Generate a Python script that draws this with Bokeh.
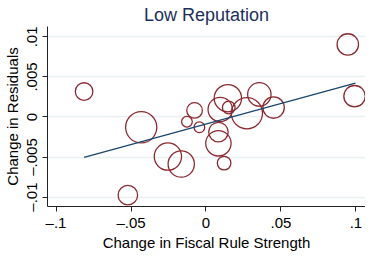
from bokeh.plotting import figure
from bokeh.models import FixedTicker, Range1d
from bokeh.embed import file_html
from bokeh.resources import INLINE
import numpy as np

# data
fiscal_change = [-0.0813, -0.0432, -0.0521, -0.0254, -0.0165, -0.0127, -0.0076, -0.0044,
                 0.0083, 0.0083, 0.0121, 0.0095, 0.0146, 0.0152, 0.0273, 0.0356,
                 0.0451, 0.0946, 0.0991]
resid_change = [0.00318, -0.00129, -0.00976, -0.00494, -0.00588, -0.00059, 0.00082, -0.00129,
                -0.00188, -0.00329, -0.00576, 0.00094, 0.00235, 0.00118, 0.00047, 0.00282,
                0.00118, 0.00906, 0.00259]
weights = [8.1, 25.6, 10.0, 19.6, 18.2, 3.0, 6.4, 3.0,
           10.0, 16.9, 4.9, 15.6, 19.6, 4.2, 25.6, 14.4,
           12.1, 12.1, 12.1]
fit_x = [-0.0813, 0.0997]
fit_y = [-0.00506, 0.00424]

x_ticks = [-0.1, -0.05, 0.0, 0.05, 0.1]
x_tick_labels = ["\u2013.1", "\u2013.05", "0", ".05", ".1"]
y_ticks = [-0.01, -0.005, 0.0, 0.005, 0.01]
y_tick_labels = ["\u2013.01", "\u2013.005", "0", ".005", ".01"]

FONT = "Liberation Sans"

p = figure(width=365, frame_height=180, output_backend="svg", toolbar_location=None,
           x_range=Range1d(-0.1057, 0.1064), y_range=Range1d(-0.01118, 0.0113),
           min_border_left=40, min_border_right=0, min_border_top=0, min_border_bottom=0)
p.outline_line_color = None
p.background_fill_color = "white"
p.border_fill_color = "white"

p.title.text = "Low Reputation"
p.title.align = "center"
p.title.text_font = FONT
p.title.text_font_size = "18px"
p.title.text_font_style = "normal"
p.title.text_color = "#1c2f5c"
p.title.standoff = 4

sizes = [1.95 * np.sqrt(w * 10.0) for w in weights]
p.scatter(fiscal_change, resid_change, size=sizes, marker="circle",
          fill_color=None, line_color="#8c2a31", line_width=1.3)
p.line(fit_x, fit_y, line_color="#1a476f", line_width=1.3)

p.xgrid.visible = False
p.ygrid.ticker = FixedTicker(ticks=y_ticks)
p.ygrid.grid_line_color = "#e8f0f1"
p.ygrid.grid_line_width = 1.5

p.xaxis.ticker = FixedTicker(ticks=x_ticks)
p.xaxis.major_label_overrides = dict(zip(x_ticks, x_tick_labels))
p.yaxis.ticker = FixedTicker(ticks=y_ticks)
p.yaxis.major_label_overrides = dict(zip(y_ticks, y_tick_labels))
p.yaxis.major_label_orientation = "vertical"

p.xaxis.axis_label = "Change in Fiscal Rule Strength"
p.yaxis.axis_label = "Change in Residuals"

for ax in (p.xaxis[0], p.yaxis[0]):
    ax.axis_line_color = "#222222"
    ax.major_tick_line_color = "#222222"
    ax.major_tick_out = 5
    ax.major_tick_in = 0
    ax.minor_tick_line_color = None
    ax.major_label_text_font = FONT
    ax.major_label_text_font_size = "15px"
    ax.major_label_text_color = "black"
    ax.major_label_standoff = 2
    ax.axis_label_text_font = FONT
    ax.axis_label_text_font_size = "15px"
    ax.axis_label_text_font_style = "normal"
    ax.axis_label_text_color = "black"
    ax.axis_label_standoff = 0

open("out.html", "w").write(file_html(p, INLINE))
